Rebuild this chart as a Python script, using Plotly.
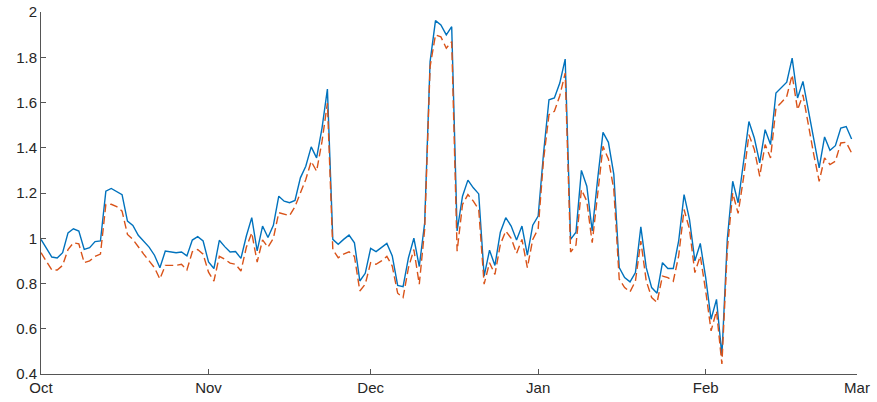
import pandas as pd
import plotly.graph_objects as go

start_date = "2018-10-01"

series_a = [
    0.995, 0.955, 0.917, 0.913, 0.936, 1.024, 1.042, 1.032, 0.951, 0.958,
    0.985, 0.988, 1.208, 1.220, 1.205, 1.193, 1.076, 1.057, 1.013, 0.988,
    0.961, 0.925, 0.870, 0.943, 0.940, 0.936, 0.939, 0.922, 0.992, 1.007,
    0.988, 0.895, 0.866, 0.991, 0.963, 0.939, 0.941, 0.911, 1.010, 1.091,
    0.944, 1.054, 1.003, 1.057, 1.186, 1.164, 1.157, 1.167, 1.267, 1.318,
    1.404, 1.355, 1.487, 1.659, 0.995, 0.973, 0.995, 1.014, 0.980, 0.811,
    0.845, 0.955, 0.941, 0.958, 0.977, 0.922, 0.792, 0.786, 0.914, 1.000,
    0.875, 1.068, 1.781, 1.962, 1.943, 1.899, 1.935, 1.032, 1.186, 1.257,
    1.223, 1.196, 0.833, 0.947, 0.880, 1.027, 1.091, 1.054, 0.992, 1.054,
    0.925, 1.058, 1.098, 1.377, 1.612, 1.620, 1.686, 1.792, 0.995, 1.027,
    1.300, 1.230, 1.032, 1.260, 1.468, 1.424, 1.282, 0.870, 0.826, 0.807,
    0.848, 1.050, 0.870, 0.782, 0.757, 0.892, 0.866, 0.866, 0.988, 1.193,
    1.083, 0.900, 0.977, 0.826, 0.642, 0.730, 0.481, 0.995, 1.252, 1.157,
    1.333, 1.516, 1.443, 1.333, 1.480, 1.414, 1.642, 1.664, 1.690, 1.796,
    1.620, 1.693, 1.561, 1.436, 1.311, 1.448, 1.389, 1.409, 1.487, 1.494,
    1.439,
]

series_b = [
    0.936, 0.900, 0.860, 0.860, 0.880, 0.950, 0.980, 0.975, 0.892, 0.900,
    0.920, 0.930, 1.149, 1.150, 1.140, 1.120, 1.017, 0.995, 0.960, 0.930,
    0.900, 0.870, 0.820, 0.880, 0.880, 0.880, 0.885, 0.860, 0.940, 0.950,
    0.930, 0.850, 0.811, 0.920, 0.907, 0.890, 0.885, 0.855, 0.960, 1.024,
    0.895, 0.993, 0.960, 1.000, 1.113, 1.105, 1.100, 1.140, 1.200, 1.260,
    1.340, 1.296, 1.428, 1.597, 0.950, 0.914, 0.930, 0.940, 0.920, 0.767,
    0.797, 0.892, 0.885, 0.900, 0.920, 0.877, 0.757, 0.738, 0.870, 0.950,
    0.797, 1.040, 1.759, 1.899, 1.890, 1.840, 1.869, 0.943, 1.149, 1.193,
    1.164, 1.127, 0.797, 0.892, 0.840, 0.973, 1.032, 1.000, 0.933, 0.995,
    0.870, 0.995, 1.042, 1.348, 1.546, 1.561, 1.630, 1.730, 0.939, 0.970,
    1.215, 1.164, 0.980, 1.200, 1.406, 1.350, 1.215, 0.819, 0.782, 0.763,
    0.811, 0.988, 0.811, 0.738, 0.716, 0.833, 0.826, 0.810, 0.922, 1.127,
    1.040, 0.848, 0.922, 0.767, 0.591, 0.679, 0.444, 0.951, 1.200, 1.110,
    1.267, 1.458, 1.392, 1.274, 1.414, 1.355, 1.575, 1.600, 1.627, 1.722,
    1.568, 1.634, 1.494, 1.370, 1.252, 1.355, 1.326, 1.340, 1.421, 1.424,
    1.377,
]

dates = pd.date_range(start_date, periods=len(series_a), freq="D")

fig = go.Figure()
fig.add_trace(go.Scatter(x=dates, y=series_a, mode="lines",
                         line=dict(color="#0072BD", width=1.4)))
fig.add_trace(go.Scatter(x=dates, y=series_b, mode="lines",
                         line=dict(color="#D95319", width=1.4, dash="8px,4px")))

axis_font = dict(family="Liberation Sans, Arial, sans-serif", size=15, color="#262626")

fig.update_layout(
    width=877, height=402,
    margin=dict(l=41, r=20, t=12, b=28, autoexpand=False),
    paper_bgcolor="white", plot_bgcolor="white",
    showlegend=False,
    font=axis_font,
)
fig.update_xaxes(
    range=["2018-10-01", "2019-03-01"],
    tick0="2018-10-01", dtick="M1", tickformat="%b",
    ticks="inside", ticklen=5, tickcolor="#555555", tickwidth=1,
    showline=True, linecolor="#555555", linewidth=1,
    showgrid=False, zeroline=False, tickfont=axis_font, automargin=False,
)
fig.update_yaxes(
    range=[0.4, 2.0], tick0=0.4, dtick=0.2,
    ticks="inside", ticklen=5, tickcolor="#555555", tickwidth=1,
    showline=True, linecolor="#555555", linewidth=1,
    showgrid=False, zeroline=False, tickfont=axis_font, automargin=False,
)

fig.write_html(
    "out.html",
    config={"displayModeBar": False},
    post_script="document.body.style.margin='0';document.body.style.overflow='hidden';",
)
